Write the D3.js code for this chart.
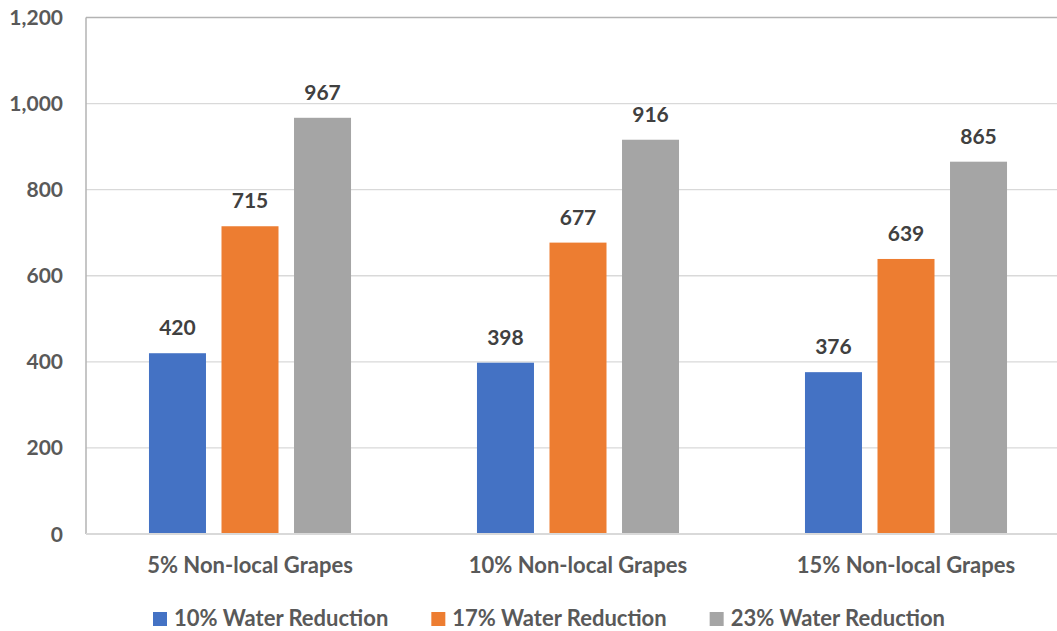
<!DOCTYPE html>
<html>
<head>
<meta charset="utf-8">
<script src="https://cdn.jsdelivr.net/npm/d3@7"></script>
<style>
  body { margin: 0; background: #fff; }
  svg { display: block; font-family: Lato, sans-serif; font-weight: bold; }
</style>
</head>
<body>
<svg width="1057" height="631"></svg>
<script>
// chart data
const categories = ['5% Non-local Grapes', '10% Non-local Grapes', '15% Non-local Grapes'];
const seriesNames = ['10% Water Reduction', '17% Water Reduction', '23% Water Reduction'];
const reduction10 = [420, 398, 376];
const reduction17 = [715, 677, 639];
const reduction23 = [967, 916, 865];
const yTicks = [0, 200, 400, 600, 800, 1000, 1200];
const colors = ['#4472C4', '#ED7D31', '#A5A5A5'];

const seriesValues = [reduction10, reduction17, reduction23];

var svg = d3.select('svg');

var plotLeft = 86, plotRight = 1070, plotTop = 17.5, plotBottom = 534;

var x0 = d3.scaleBand()
    .domain(categories)
    .range([plotLeft, plotRight])
    .paddingInner(0.384)
    .paddingOuter(0.192);

var x1 = d3.scaleBand()
    .domain(seriesNames)
    .range([0, x0.bandwidth()])
    .paddingInner(0.214);

var y = d3.scaleLinear()
    .domain([0, 1200])
    .range([plotBottom, plotTop]);

// gridlines
svg.append('g')
    .selectAll('line')
    .data(yTicks.filter(d => d > 0 && d < 1200))
    .join('line')
    .attr('x1', plotLeft)
    .attr('x2', 1057)
    .attr('y1', d => y(d))
    .attr('y2', d => y(d))
    .attr('stroke', '#d9d9d9')
    .attr('stroke-width', 1.3);

// plot border (top + left)
svg.append('line')
    .attr('x1', plotLeft).attr('x2', 1057)
    .attr('y1', y(1200)).attr('y2', y(1200))
    .attr('stroke', '#b3b3b3').attr('stroke-width', 1.5);
svg.append('line')
    .attr('x1', plotLeft).attr('x2', plotLeft)
    .attr('y1', y(1200)).attr('y2', y(0))
    .attr('stroke', '#b3b3b3').attr('stroke-width', 1.5);

// y tick labels
svg.append('g')
    .selectAll('text')
    .data(yTicks)
    .join('text')
    .attr('x', 63)
    .attr('y', d => y(d))
    .attr('dy', '0.36em')
    .attr('text-anchor', 'end')
    .attr('font-size', 21)
    .attr('fill', '#595959')
    .text(d => d3.format(',')(d));

// bars
var groups = svg.append('g')
    .selectAll('g')
    .data(categories)
    .join('g')
    .attr('transform', d => 'translate(' + x0(d) + ',0)');

groups.selectAll('rect')
    .data((c, i) => seriesNames.map((s, j) => ({ s: s, v: seriesValues[j][i], j: j })))
    .join('rect')
    .attr('x', d => x1(d.s))
    .attr('y', d => y(d.v))
    .attr('width', x1.bandwidth())
    .attr('height', d => y(0) - y(d.v))
    .attr('fill', d => colors[d.j]);

groups.selectAll('text')
    .data((c, i) => seriesNames.map((s, j) => ({ s: s, v: seriesValues[j][i], j: j })))
    .join('text')
    .attr('x', d => x1(d.s) + x1.bandwidth() / 2)
    .attr('y', d => y(d.v) - 18)
    .attr('text-anchor', 'middle')
    .attr('font-size', 21)
    .attr('fill', '#404040')
    .text(d => d.v);

// x axis line
svg.append('line')
    .attr('x1', plotLeft).attr('x2', 1057)
    .attr('y1', y(0)).attr('y2', y(0))
    .attr('stroke', '#d9d9d9').attr('stroke-width', 2);

// category labels
svg.append('g')
    .selectAll('text')
    .data(categories)
    .join('text')
    .attr('x', d => x0(d) + x0.bandwidth() / 2)
    .attr('y', 573)
    .attr('text-anchor', 'middle')
    .attr('font-size', 22)
    .attr('fill', '#595959')
    .text(d => d);

// legend
var legend = svg.append('g');
var items = legend.selectAll('g')
    .data(seriesNames)
    .join('g');
items.append('rect')
    .attr('width', 14).attr('height', 14)
    .attr('y', 612)
    .attr('fill', (d, i) => colors[i]);
items.append('text')
    .attr('x', 21)
    .attr('y', 626)
    .attr('font-size', 22)
    .attr('fill', '#595959')
    .text(d => d);

var pos = 153;
items.each(function() {
    var g = d3.select(this);
    g.attr('transform', 'translate(' + pos + ',0)');
    pos += 21 + g.select('text').node().getComputedTextLength() + 43;
});
</script>
</body>
</html>
